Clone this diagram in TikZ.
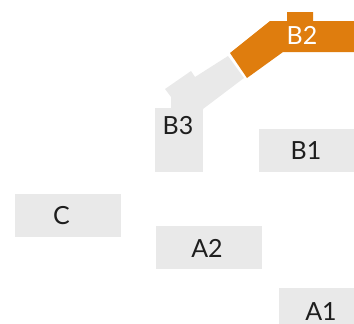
\documentclass[tikz,border=0pt]{standalone}
\usepackage{fontspec}
\setmainfont{Lato}
\definecolor{roomgrey}{HTML}{E9E9E9}
\definecolor{roomorange}{HTML}{DF7D0E}
\definecolor{labeltext}{HTML}{1E1E1E}
\tikzset{
  room/.style={fill=roomgrey, draw=none},
  picked/.style={fill=roomorange, draw=none},
  roomlabel/.style={text=labeltext, font=\fontsize{25}{25}\selectfont, inner sep=0pt},
  pickedlabel/.style={roomlabel, text=white}
}
\begin{document}
\begin{tikzpicture}[x=1pt,y=-1pt]
\useasboundingbox (0,0) rectangle (354,324);
% rooms
\fill[room] (15,194) rectangle (121,237);
\fill[room] (156,226) rectangle (262,269);
\fill[room] (279,288) rectangle (354,324);
\fill[room] (259,129) rectangle (354,172);
\fill[room] (155,108) rectangle (203,172);
\fill[room] (165,89) -- (191,71) -- (195,77) -- (228,56) -- (244,78)
  -- (203,109) -- (203,110) -- (171,110) -- (171,97) -- cycle;
% selected room
\fill[picked] (230,53) -- (270,21) -- (287,21) -- (287,12) -- (313,12)
  -- (313,21) -- (354,21) -- (354,52) -- (283,52) -- (247,78) -- cycle;
% labels
\node[roomlabel] (c) at (61.5,216) {C};
\node[roomlabel] (a2) at (207,248) {A2};
\node[roomlabel] (a1) at (321,312) {A1};
\node[roomlabel] (b1) at (306,150.5) {B1};
\node[roomlabel] (b3) at (178,126) {B3};
\node[pickedlabel] (b2) at (302,35.5) {B2};
\end{tikzpicture}
\end{document}
